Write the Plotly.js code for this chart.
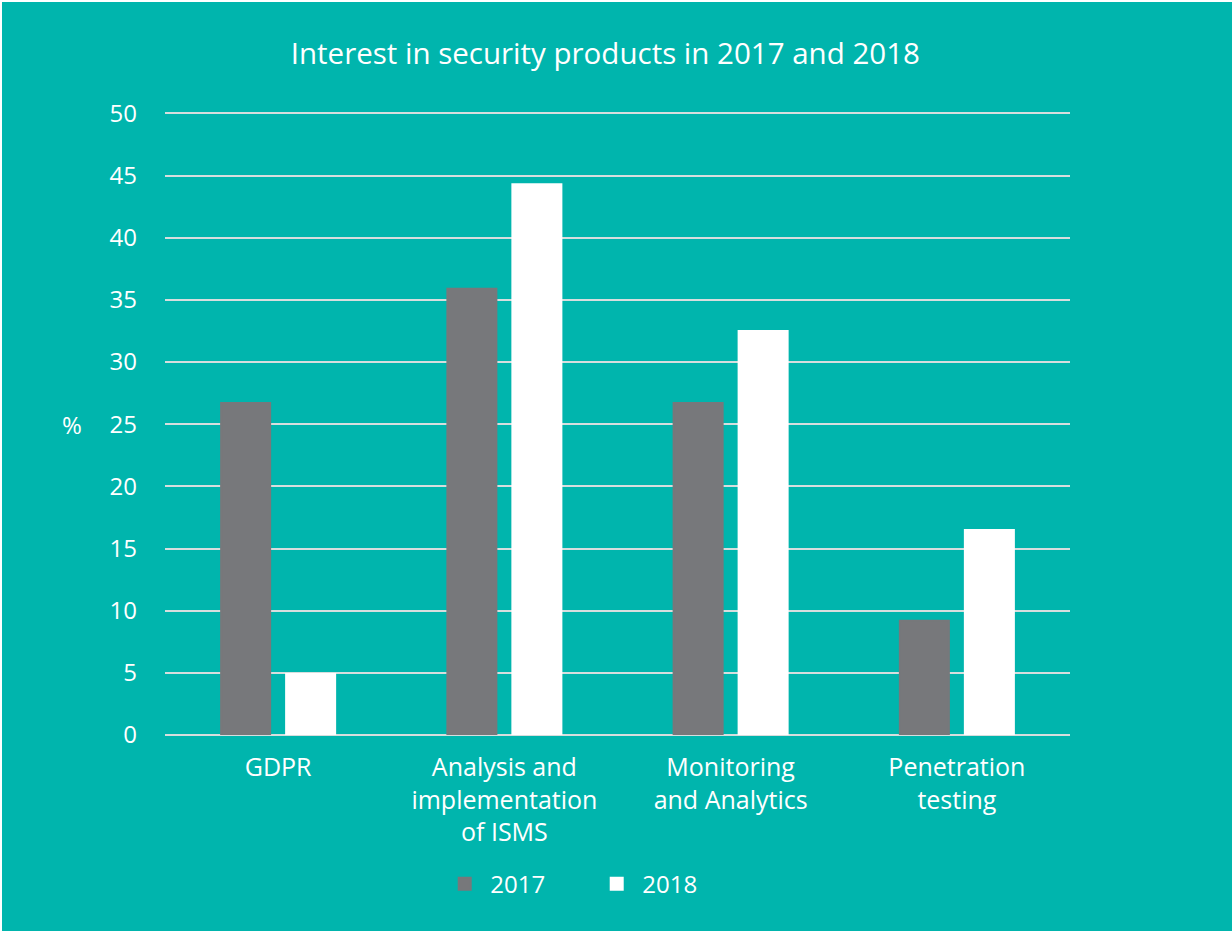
<!DOCTYPE html>
<html>
<head>
<meta charset="utf-8">
<script src="https://cdn.plot.ly/plotly-3.0.1.min.js"></script>
<style>
html,body{margin:0;padding:0;background:#ffffff;overflow:hidden;}
#chart{position:absolute;left:2px;top:2px;width:1230px;height:929px;}
</style>
</head>
<body>
<div id="chart"></div>
<script>
const categories = ["GDPR", "Analysis and<br>implementation<br>of ISMS", "Monitoring<br>and Analytics", "Penetration<br>testing"];
const values2017 = [26.7, 35.9, 26.7, 9.2];
const values2018 = [4.9, 44.3, 32.5, 16.5];
const yTicks = [0, 5, 10, 15, 20, 25, 30, 35, 40, 45, 50];

const bg = "#00B5AD";
const font = "'Open Sans', sans-serif";

const data = [
  {type: "bar", name: "2017", x: categories, y: values2017, marker: {color: "#77787B", line: {color: "#77787B", width: 2}}},
  {type: "bar", name: "2018", x: categories, y: values2018, marker: {color: "#FFFFFF", line: {color: "#FFFFFF", width: 2}}}
];

const layout = {
  width: 1230, height: 929,
  paper_bgcolor: bg, plot_bgcolor: bg,
  font: {family: font, color: "#FFFFFF", size: 24},
  title: {text: "Interest in security products in 2017 and 2018", x: 0.4905, xanchor: "center", y: 0.9445, yanchor: "middle", font: {size: 29.5, color: "#FFFFFF", family: font}},
  margin: {l: 163, r: 162, t: 110, b: 196},
  barmode: "group",
  bargap: 0.4254,
  bargroupgap: 0.246,
  xaxis: {showgrid: false, showline: false, zeroline: false, ticks: "", tickfont: {size: 25, color: "#FFFFFF"}, ticklabelstandoff: 15},
  yaxis: {
    range: [0, 50.12], tickvals: yTicks, ticktext: yTicks.map(String),
    showgrid: true, gridcolor: "#D6DEDE", gridwidth: 2,
    zeroline: true, zerolinecolor: "#D6DEDE", zerolinewidth: 2,
    showline: false, ticks: "", ticklabelstandoff: 27,
    tickfont: {size: 24, color: "#FFFFFF"}
  },
  annotations: [
    {text: "%", xref: "paper", yref: "y", x: -0.103, y: 25, xanchor: "center", yanchor: "middle", showarrow: false, font: {size: 24, color: "#FFFFFF", family: font}}
  ],
  showlegend: true,
  legend: {orientation: "h", x: 0.303, xanchor: "left", y: -0.2395, yanchor: "middle", font: {size: 24, color: "#FFFFFF"}, entrywidth: 96, entrywidthmode: "pixels", itemwidth: 41, tracegroupgap: 0, bgcolor: "rgba(0,0,0,0)"}
};

Plotly.newPlot("chart", data, layout, {displayModeBar: false, staticPlot: true});
</script>
</body>
</html>
